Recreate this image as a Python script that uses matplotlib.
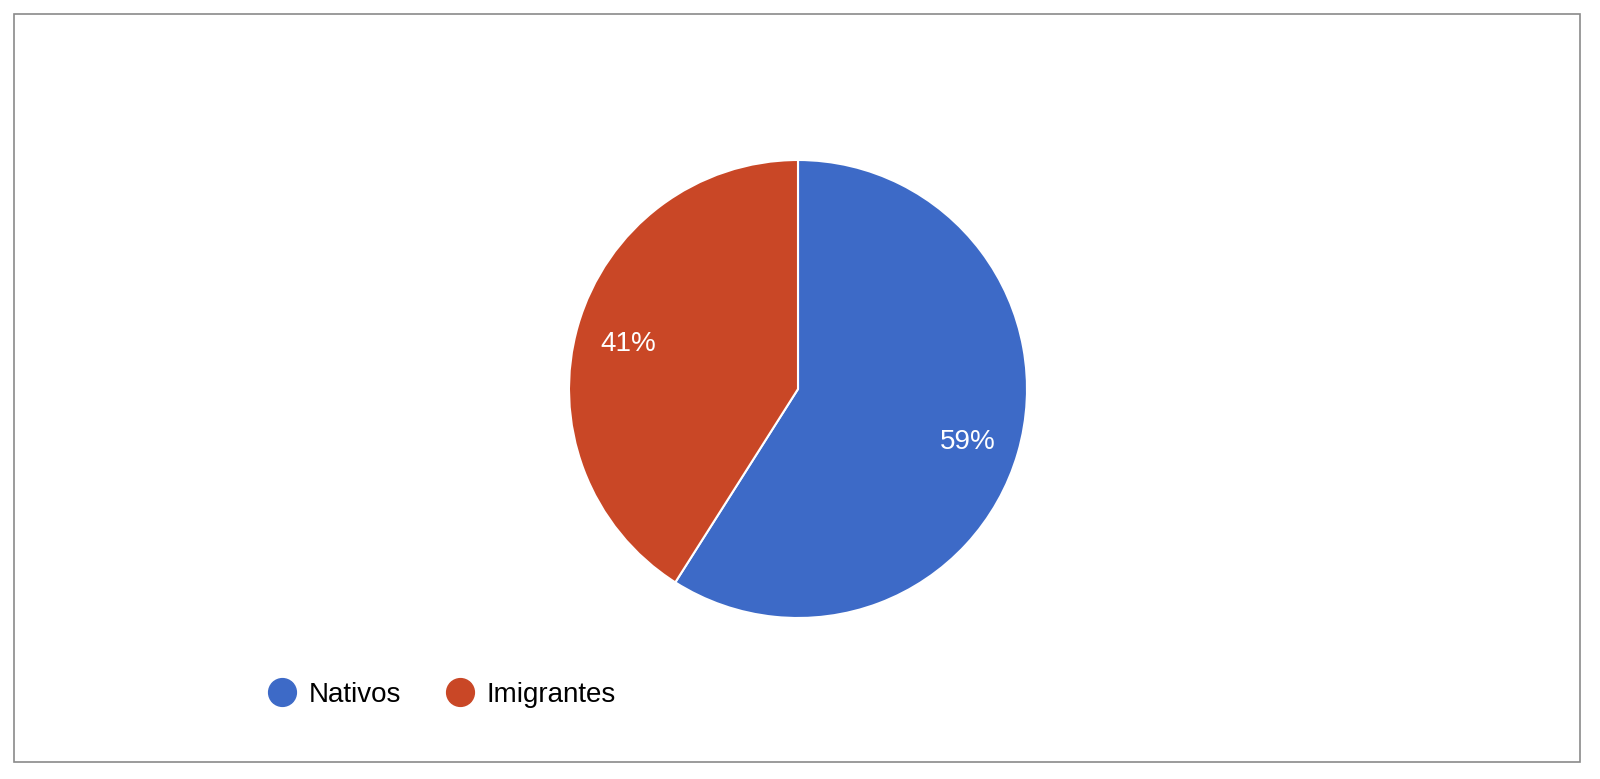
import matplotlib
matplotlib.use("Agg")
import matplotlib.pyplot as plt
from matplotlib.patches import Rectangle
from matplotlib.lines import Line2D

labels = ["Nativos", "Imigrantes"]
values = [59, 41]
colors = ["#3D6AC7", "#C94726"]

plt.rcParams['font.family'] = ['Liberation Sans', 'DejaVu Sans']

W, H = 1600, 779
fig = plt.figure(figsize=(W / 100, H / 100), dpi=100)
fig.patch.set_facecolor("white")

# border
fig.patches.append(Rectangle((14 / W, (H - 762) / H), 1566 / W, 748 / H,
                             transform=fig.transFigure, fill=False,
                             edgecolor="#8a8a8a", linewidth=1.2))

cx, cy, half = 798, 389, 250
ax = fig.add_axes([(cx - half) / W, (H - cy - half) / H, 2 * half / W, 2 * half / H])
wedges, texts, autotexts = ax.pie(
    values, colors=colors, startangle=90, counterclock=False,
    radius=229 / half, autopct=lambda p: f"{p:.0f}%", pctdistance=0.77,
    wedgeprops=dict(edgecolor="white", linewidth=1.5),
    textprops=dict(color="white", fontsize=20))
for t in autotexts:
    x, y = t.get_position()
    t.set_position((x, y - 0.015))
ax.set_xlim(-1, 1)
ax.set_ylim(-1, 1)
ax.set_aspect("equal")
ax.axis("off")

handles = [Line2D([0], [0], marker="o", linestyle="none", markersize=20,
                  markerfacecolor=c, markeredgecolor=c) for c in colors]
fig.legend(handles, labels, loc="center left", ncol=2, frameon=False,
           bbox_to_anchor=(268 / W, (H - 695) / H), fontsize=20,
           handlelength=1.0, handletextpad=0.47, columnspacing=1.6,
           borderaxespad=0, borderpad=0)

fig.savefig("out.png", dpi=100, facecolor="white")
